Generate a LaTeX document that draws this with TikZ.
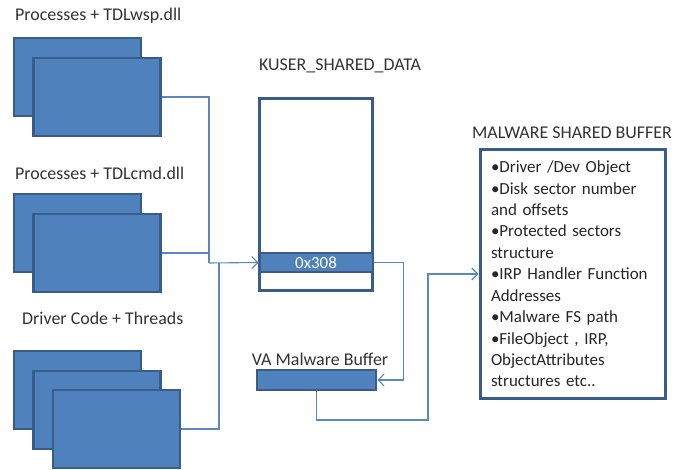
\documentclass[tikz,border=0pt]{standalone}
\usepackage{fontspec}
\setmainfont{Carlito}
\usetikzlibrary{arrows.meta,positioning}

\definecolor{boxblue}{HTML}{4F81BD}
\definecolor{edgeblue}{HTML}{385D8A}
\definecolor{wireblue}{HTML}{5B87C0}

\tikzset{
	win/.style={draw=edgeblue, line width=2.5bp, fill=boxblue, minimum width=127bp, minimum height=78bp, inner sep=0pt},
	lbl/.style={inner sep=0pt, font=\fontsize{18}{20}\selectfont, text=black!80},
	wire/.style={draw=wireblue, line width=1.1bp},
	tip/.style={-{Straight Barb[length=6bp,width=12bp]}}
}

\begin{document}
\begin{tikzpicture}[x=1bp,y=-1bp]
	\useasboundingbox (0,0) rectangle (673,470);

	% process windows
	\node[lbl, anchor=west] (wsplbl) at (15,16) {Processes + TDLwsp.dll};
	\node[win] (wsp2) at (77.5,77) {};
	\node[win] (wsp1) at (97,97) {};

	\node[lbl, anchor=west] (cmdlbl) at (15,173) {Processes + TDLcmd.dll};
	\node[win] (cmd2) at (77.5,233) {};
	\node[win] (cmd1) at (97,253) {};

	% driver threads
	\node[lbl, anchor=west] (drvlbl) at (22,318) {Driver Code + Threads};
	\node[win] (drv3) at (77.5,390) {};
	\node[win] (drv2) at (97,410) {};
	\node[win] (drv1) at (116.5,429) {};

	% KUSER_SHARED_DATA
	\node[lbl] (kusrlbl) at (340,66) {KUSER\_SHARED\_DATA};
	\node[draw=edgeblue, line width=3bp, fill=white, minimum width=113bp, minimum height=192bp, inner sep=0pt] (kusr) at (316,194.5) {};
	\node[draw=edgeblue, line width=2bp, fill=boxblue, minimum width=113bp, minimum height=19bp, inner sep=0pt,
		font=\fontsize{17}{18}\selectfont, text=white] (slot) at (316,262.5) {0x308};

	% VA buffer
	\node[lbl] (valbl) at (320,359) {VA Malware Buffer};
	\node[draw=edgeblue, line width=2.5bp, fill=boxblue, minimum width=119bp, minimum height=20bp, inner sep=0pt] (vabuf) at (316.5,380) {};

	% shared buffer
	\node[lbl] (msblbl) at (572,133) {MALWARE SHARED BUFFER};
	\node[draw=edgeblue, line width=3bp, fill=white, minimum width=185bp, minimum height=248bp,
		inner xsep=11bp, text width=163bp, align=left, font=\fontsize{17}{21.5}\selectfont, text=black!85] (msb) at (572.5,274) {%
		•Driver /Dev Object\\
		•Disk sector number\\
		and offsets\\
		•Protected sectors\\
		structure\\
		•IRP Handler Function\\
		Addresses\\
		•Malware FS path\\
		•FileObject , IRP,\\
		ObjectAttributes\\
		structures etc..};

	% connectors
	\coordinate (j1) at (209,263);
	\path[wire] (wsp1.east) -| (j1);
	\path[wire, tip] (j1) -- (slot.west);
	\path[wire] (cmd1.east) -- (cmd1.east -| j1);
	\path[wire] (drv1.east) -| (219,263);
	\path[wire, tip] (slot.east) -- ++(30,0) |- (vabuf.east);
	\path[wire, tip] (vabuf.south) |- (428,420) |- (msb.west);
\end{tikzpicture}
\end{document}
